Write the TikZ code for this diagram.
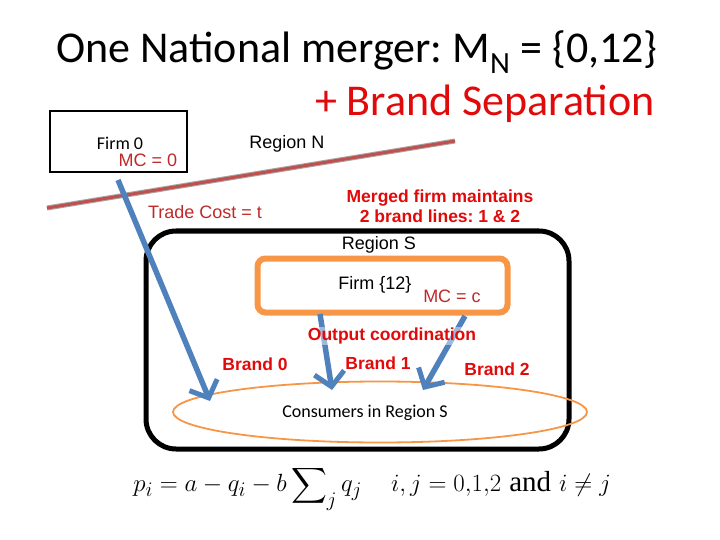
\documentclass[tikz,border=0pt]{standalone}
\usepackage{amsmath}
\usepackage{fontspec}
\setmainfont{Liberation Sans}
\newfontfamily\calib{Carlito}
\newfontfamily\timesf{Liberation Serif}
\usetikzlibrary{arrows.meta,shapes.geometric}
\frenchspacing
\definecolor{arrblue}{RGB}{79,129,189}
\definecolor{orng}{RGB}{247,150,70}
\definecolor{darkred}{RGB}{192,40,40}
\definecolor{brred}{RGB}{225,10,10}
\definecolor{lineRed}{RGB}{192,80,77}
\tikzset{
  lbl/.style={inner sep=0pt, font=\fontsize{18}{20}\selectfont},
  redlbl/.style={lbl, text=darkred},
  boldlbl/.style={inner sep=0pt, font=\fontsize{17.5}{20}\selectfont\bfseries, text=brred},
  bluearrow/.style={draw=arrblue, line width=5.5pt, -{Straight Barb[length=14pt,width=30pt,line width=5pt]}},
}
\begin{document}
\begin{tikzpicture}[x=1pt,y=-1pt]
\useasboundingbox (0,0) rectangle (720,540);
% title
\node[inner sep=0pt, font=\calib\fontsize{44}{48}\selectfont] (t1) at (357,52) {\frenchspacing One National merger: M\textsubscript{N} = \{0,12\}};
\node[inner sep=0pt, anchor=east, font=\calib\fontsize{44}{48}\selectfont, text=brred] (t2) at (655,104) {+ Brand Separation};
% firm 0
\node[draw=black, line width=1.5pt, minimum width=137pt, minimum height=61pt, inner sep=0pt] (firm0) at (118.5,141.5) {};
\node[inner sep=0pt, font=\calib\fontsize{18}{20}\selectfont] (f0t) at (120,143) {Firm 0};
\node[redlbl] (mc0) at (148,160) {MC = 0};
\node[lbl] (regN) at (287,144) {Region N};
% trade-cost line
\coordinate (la) at (47,208);
\coordinate (lb) at (455,141);
\draw[gray!70, line width=5pt] (la) -- (lb);
\draw[lineRed, line width=3pt] (la) -- (lb);
\node[redlbl] (tc) at (205,212) {Trade Cost = t};
\node[boldlbl, align=center] (merged) at (440,206) {Merged firm maintains\\2 brand lines: 1 \& 2};
% region S
\draw[black, line width=5pt, rounded corners=30pt] (146,231) rectangle (569,449);
\node[lbl] (regS) at (379,245) {Region S};
\node[draw=orng, line width=6pt, rounded corners=8pt, minimum width=250pt, minimum height=54pt, inner sep=0pt] (firm12) at (382.5,285.5) {};
\node[lbl] (f12t) at (375,285) {Firm \{12\}};
\node[redlbl] (mcc) at (452,296) {MC = c};
% consumers
\node[draw=orng, line width=1.8pt, ellipse, minimum width=414pt, minimum height=61pt, inner sep=0pt] (cons) at (380,412) {};
\node[inner sep=0pt, font=\calib\fontsize{18}{20}\selectfont] (const) at (365,413) {Consumers in Region S};
% arrows
\coordinate (a0s) at (118,180);
\coordinate (a0e) at (210,401);
\coordinate (a1s) at (320,314);
\coordinate (a1e) at (332,390);
\coordinate (a2s) at (465,316);
\coordinate (a2e) at (423,390);
\draw[bluearrow] (a0s) -- (a0e);
\draw[bluearrow] (a1s) -- (a1e);
\draw[bluearrow] (a2s) -- (a2e);
\node[boldlbl, fill=white, fill opacity=0.45, text opacity=1, inner sep=1pt] (oc) at (392,336) {Output coordination};
\node[boldlbl] (b0) at (255,364) {Brand 0};
\node[boldlbl] (b1) at (378,363) {Brand 1};
\node[boldlbl] (b2) at (497,369) {Brand 2};
% formula
\node[inner sep=0pt, font=\fontsize{29}{32}\selectfont] (form) at (372,488)
  {$p_i = a - q_i - b\displaystyle\sum\nolimits_j q_j\quad i,j = 0{,}1{,}2$ {\timesf and} $i \neq j$};
\end{tikzpicture}
\end{document}
